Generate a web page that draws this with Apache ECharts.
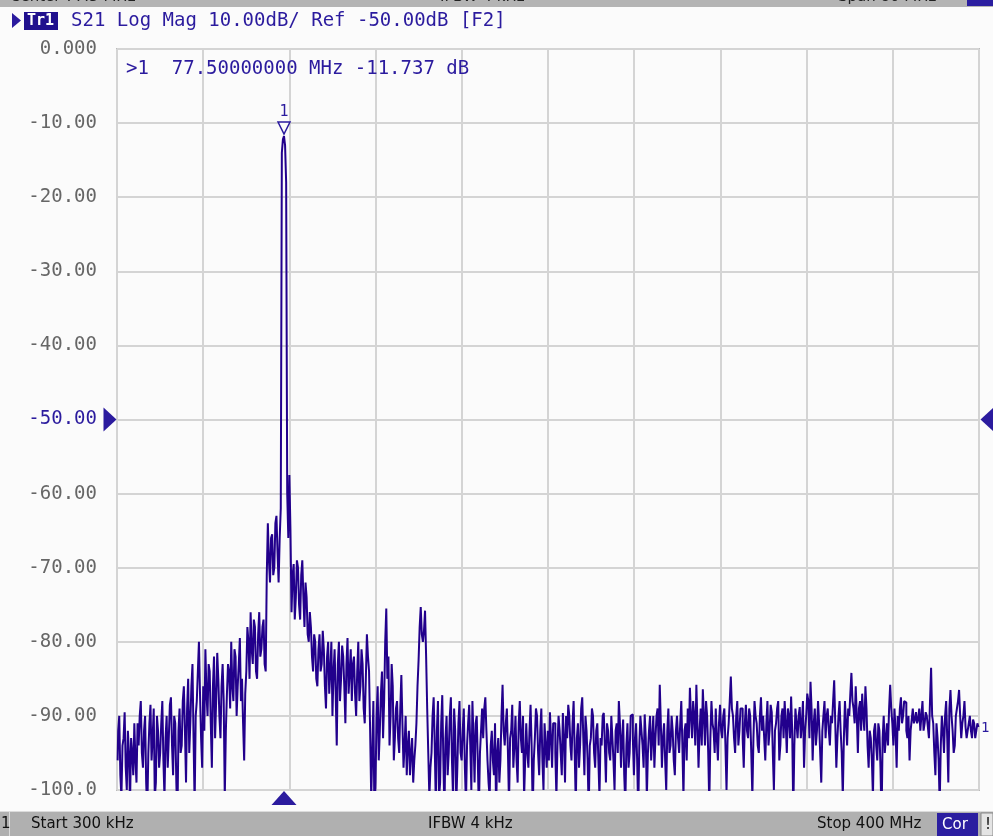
<!DOCTYPE html>
<html><head><meta charset="utf-8">
<script src="https://cdn.jsdelivr.net/npm/echarts@6/dist/echarts.min.js"></script>
<style>html,body{margin:0;padding:0;background:#fbfbfb;overflow:hidden}#c{width:993px;height:836px}</style>
</head><body><div id="c"></div>
<script>
// Sweep definition (VNA S21 trace)
const START_MHZ = 0.3;
const STOP_MHZ = 400;
const POINTS = 801;
// Y tick labels, top (0 dB) to bottom (-100 dB)
const yTickLabels = ['0.000','-10.00','-20.00','-30.00','-40.00','-50.00','-60.00','-70.00','-80.00','-90.00','-100.0'];
const REF_LEVEL = -50;
// S21 magnitude in dB, one value per sweep point (20 points per row)
const s21dB = [
 -96,-92,-90,-98,-101,-94,-93,-89.5,-97,-100,-92,-95,-102,-93,-95,-98,-91,-96,-99,-91,
 -94,-90,-88,-95,-97,-92,-90,-99,-103,-95,-91,-88.5,-96,-93,-89,-101,-99,-90,-92,-97,
 -95,-91,-88,-96,-101,-93,-90,-97,-93,-88.5,-87.5,-94,-98,-90,-91,-99,-104,-92,-89,-95,
 -94,-88,-86,-92,-99,-89,-85,-95,-91,-86,-83,-93,-102,-90,-88,-84,-80,-87,-93,-97,
 -86,-92,-81,-87,-90,-83,-84,-91,-97,-86,-82,-93,-88,-81.5,-85,-90,-93,-86,-83,-88,
 -101,-92,-87,-83,-84,-89,-80,-86,-88,-81,-82,-90,-86,-83,-79.5,-88,-85,-91,-96,-87,
 -84,-78,-80,-85,-76,-81,-83,-77,-78,-84,-85,-79,-76,-82,-81,-78,-77,-83,-84,-71,
 -64,-69,-72,-66,-65.5,-71,-70,-64,-63,-68,-72,-66,-62,-14,-12.2,-11.74,-13,-18,-60,-66,
 -57.5,-65,-76,-71,-69.5,-77,-74,-69,-70,-75,-77,-71,-69,-74,-78,-72,-74,-79,-80,-76,
 -78,-82,-84,-79,-80,-85,-86,-81,-79,-84,-83,-78.5,-81,-86,-89,-82,-80,-87,-84,-80,
 -90,-84,-81,-87,-94,-83,-80,-88,-85,-80.5,-82,-86,-91,-83,-79.5,-87,-84,-81,-88,-83,
 -82,-87,-90,-84,-80,-88,-86,-81,-83,-89,-91,-85,-79,-82,-84,-92,-101,-95,-88,-104,
 -99,-90,-86,-96,-92,-87,-84,-93,-88,-80,-75.5,-85,-82,-94,-90,-83,-86,-96,-93,-89,
 -88,-93,-95,-89,-84.5,-91,-97,-94,-90,-98,-94,-92,-98,-95,-93,-99,-96,-94,-91,-86,
 -82.5,-78,-75.3,-79,-80,-78.5,-75.8,-82,-89,-95,-101,-97,-95,-90,-87.5,-94,-102,-92,-88,-101,
 -99,-91,-87.2,-96,-103,-93,-90,-98,-95,-90,-87.5,-96,-101,-89,-92,-102,-97,-91,-88,-95,
 -96,-92,-89,-97,-102,-94,-91,-88.5,-94,-100,-88,-93,-99,-91,-90,-96,-103,-95,-92,-89,
 -93,-89,-87.5,-92,-96,-99,-101,-94,-92,-96,-98,-91,-103,-95,-93,-99,-96,-90,-85.8,-92,
 -94,-91,-89,-95,-102,-93,-92,-88.5,-97,-94,-90,-96,-99,-91,-88,-93,-95,-90,-101,-96,
 -91,-95,-97,-92,-88.5,-94,-103,-96,-93,-89,-90,-95,-98,-92,-89,-96,-100,-91,-94,-97,
 -92,-96,-89.5,-93,-97,-91,-91,-95,-101,-94,-90,-92,-95,-98,-89.6,-93,-99,-90,-93,-88.5,
 -90,-94,-96,-91,-88,-95,-102,-93,-91,-97,-94,-89,-87.5,-93,-98,-90,-92,-96,-103,-94,
 -93,-89,-90,-95,-97,-92,-91,-96,-101,-93,-94,-90,-89.6,-94,-99,-91,-92,-95,-96,-90,
 -93,-96,-100,-92,-91,-95,-88,-91,-97,-93,-90.5,-98,-102,-94,-91,-97,-95,-90,-89.8,-93,
 -98,-93,-91,-96,-103,-94,-90,-92,-94,-97,-89.8,-93,-101,-95,-92,-90,-96,-93,-90,-97,
 -93,-90,-89,-94,-85.8,-91,-97,-93,-91,-96,-100,-92,-89,-95,-94,-90,-92,-96,-98,-92,
 -90,-93,-95,-91,-88,-94,-101,-92,-91,-96,-89,-93,-86.2,-90,-93,-88,-90,-94,-85.8,-91,
 -97,-92,-89,-94,-86.4,-90,-94,-88,-90,-95,-102,-93,-88,-91,-92,-95,-89,-93,-96,-91,
 -88.5,-92,-93,-90,-89,-94,-100,-93,-91,-88,-84.7,-89,-90,-93,-95,-90,-88,-94,-92,-89,
 -89,-93,-97,-91,-88.5,-92,-93,-89,-90,-95,-101,-93,-88,-90,-91,-94,-95,-90,-87.5,-92,
 -90,-93,-96,-91,-88,-94,-92,-88.5,-89.5,-95,-100,-92,-91,-89,-88,-96,-94,-90,-89,-93,
 -88,-91,-95,-89,-90,-93,-87.4,-92,-103,-94,-89,-91,-93,-90,-88.8,-93,-91,-88,-97,-92,
 -90,-87,-88,-93,-85.4,-89,-96,-91,-89,-94,-92,-88,-91,-95,-99,-92,-90,-88,-93,-90,
 -89,-92,-94,-90,-91,-88,-85.2,-91,-97,-93,-90,-88,-92,-95,-101,-93,-88,-91,-94,-89,
 -90,-87,-84.2,-88,-89,-91,-86,-90,-95,-89,-88,-92,-87,-90,-92,-86,-89,-94,-97,-92,
 -93,-96,-101,-92,-91,-94,-96,-91,-92,-97,-104,-93,-90,-95,-93,-91,-94,-89,-85.8,-89,
 -91,-94,-89,-92,-97,-90,-92,-89,-87.5,-91,-90,-88,-88.2,-92,-93,-90,-96,-92,-90.5,-89,
 -91,-90.5,-89.5,-91,-90.5,-89,-92,-90,-88,-92,-91,-89.5,-90,-91.5,-93,-88,-83.5,-90,-91,-95,
 -98,-91,-93,-96,-102,-94,-90,-92,-95,-90,-88,-93,-99,-89,-86.5,-90,-92,-95,-94,-90,
 -89,-88,-86.5,-90,-93,-91,-90,-88,-91.5,-93,-92,-91,-90,-92,-93,-90.5,-91,-93,-92,-91,
 -91.5
];
// Marker 1
const markerFreqMHz = 77.5;
const markerDB = -11.737;

const BLUE = '#2b1b9e';
const TRACE = '#22008c';
const MONO = '"DejaVu Sans Mono", monospace';
const SANS = '"DejaVu Sans", sans-serif';

const step = (STOP_MHZ - START_MHZ) / (POINTS - 1);
const traceData = s21dB.map((v, i) => [START_MHZ + i * step, v]);

const chart = echarts.init(document.getElementById('c'), null, {renderer: 'canvas'});
chart.setOption({
  animation: false,
  backgroundColor: '#fbfbfb',
  grid: {left: 117, right: 14, top: 49, bottom: 46, containLabel: false, outerBoundsMode: 'none',
         show: true, borderColor: '#8a8a8a', borderWidth: 1.5, backgroundColor: 'transparent'},
  xAxis: {
    type: 'value', min: 0, max: STOP_MHZ, interval: 40,
    axisLine: {show: false}, axisTick: {show: false}, axisLabel: {show: false},
    splitLine: {show: true, lineStyle: {color: '#d4d4d4', width: 2}}
  },
  yAxis: {
    type: 'value', min: -100, max: 0, interval: 10,
    axisLine: {show: false}, axisTick: {show: false},
    splitLine: {show: true, lineStyle: {color: '#d4d4d4', width: 2}},
    axisLabel: {
      margin: 20, fontFamily: MONO, fontSize: 19, color: '#666666',
      formatter: v => {
        const s = yTickLabels[Math.round(-v / 10)];
        return v === REF_LEVEL ? '{ref|' + s + '}' : s;
      },
      rich: {ref: {fontFamily: MONO, fontSize: 19, color: BLUE}}
    }
  },
  series: [
    {
      type: 'line', data: traceData, showSymbol: false, clip: true, step: 'middle',
      lineStyle: {color: TRACE, width: 2}, z: 3
    },
    {
      type: 'scatter', clip: false, z: 5, silent: true,
      data: [
        {value: [0, REF_LEVEL], symbol: 'path://M0,0L10,5L0,10Z', symbolSize: [13, 24], symbolOffset: [-7, 0],
         itemStyle: {color: BLUE, opacity: 1}},
        {value: [STOP_MHZ, REF_LEVEL], symbol: 'path://M10,0L0,5L10,10Z', symbolSize: [13, 24], symbolOffset: [8, 0],
         itemStyle: {color: BLUE, opacity: 1}},
        {value: [markerFreqMHz, -100], symbol: 'path://M0,10L5,0L10,10Z', symbolSize: [25, 14], symbolOffset: [0, 8],
         itemStyle: {color: BLUE, opacity: 1}},
        {value: [markerFreqMHz, markerDB], symbol: 'path://M0,0L10,0L5,10Z', symbolSize: [12, 12], symbolOffset: [0, -8],
         itemStyle: {color: '#fbfbfb', borderColor: BLUE, borderWidth: 1.5, opacity: 1},
         label: {show: true, position: 'top', distance: 2, formatter: '1', fontFamily: MONO, fontSize: 15, color: BLUE}}
      ]
    }
  ],
  graphic: [
    {type: 'rect', shape: {x: 0, y: 0, width: 993, height: 7}, style: {fill: '#b4b4b4'}},
    {type: 'text', x: 10, y: -10, style: {text: 'Center 77.5 MHz', font: '15px ' + SANS, fill: '#222'}},
    {type: 'text', x: 440, y: -10, style: {text: 'IFBW 4 kHz', font: '15px ' + SANS, fill: '#222'}},
    {type: 'text', x: 838, y: -10, style: {text: 'Span 80 MHz', font: '15px ' + SANS, fill: '#222'}},
    {type: 'rect', shape: {x: 967, y: 0, width: 26, height: 6}, style: {fill: '#2b1ea0'}},
    {type: 'polygon', shape: {points: [[12, 13], [21, 20.5], [12, 28]]}, style: {fill: BLUE}},
    {type: 'rect', shape: {x: 24, y: 12, width: 34, height: 18}, style: {fill: '#20108e'}},
    {type: 'text', x: 27, y: 21, style: {text: 'Tr1', font: 'bold 15px ' + MONO, fill: '#ffffff', verticalAlign: 'middle'}},
    {type: 'text', x: 71, y: 21, style: {text: 'S21 Log Mag 10.00dB/ Ref -50.00dB [F2]', font: '19px ' + MONO, fill: BLUE, verticalAlign: 'middle'}},
    {type: 'text', x: 126, y: 69, z: 10, style: {text: '>1  77.50000000 MHz -11.737 dB', font: '19px ' + MONO, fill: BLUE, verticalAlign: 'middle'}},
    {type: 'text', x: 981, y: 728, z: 10, style: {text: '1', font: '14px ' + MONO, fill: BLUE, verticalAlign: 'middle'}},
    {type: 'rect', shape: {x: 0, y: 811, width: 993, height: 25}, style: {fill: '#b0b0b0'}},
    {type: 'rect', shape: {x: 0, y: 811, width: 993, height: 1}, style: {fill: '#dcdcdc'}},
    {type: 'rect', shape: {x: 9, y: 812, width: 1, height: 24}, style: {fill: '#dcdcdc'}},
    {type: 'text', x: 1, y: 824, style: {text: '1', font: '15px ' + SANS, fill: '#111', verticalAlign: 'middle'}},
    {type: 'text', x: 31, y: 824, style: {text: 'Start 300 kHz', font: '15px ' + SANS, fill: '#111', verticalAlign: 'middle'}},
    {type: 'text', x: 428, y: 824, style: {text: 'IFBW 4 kHz', font: '15px ' + SANS, fill: '#111', verticalAlign: 'middle'}},
    {type: 'text', x: 817, y: 824, style: {text: 'Stop 400 MHz', font: '15px ' + SANS, fill: '#111', verticalAlign: 'middle'}},
    {type: 'rect', shape: {x: 937, y: 813, width: 41, height: 23}, style: {fill: '#2b1ea0'}},
    {type: 'text', x: 942, y: 825, style: {text: 'Cor', font: '15px ' + SANS, fill: '#ffffff', verticalAlign: 'middle'}},
    {type: 'rect', shape: {x: 981, y: 813, width: 12, height: 23}, style: {fill: '#e4e4e4', stroke: '#888', lineWidth: 1}},
    {type: 'text', x: 985, y: 825, style: {text: '!', font: '15px ' + SANS, fill: '#111', verticalAlign: 'middle'}}
  ]
});
</script>
</body></html>
